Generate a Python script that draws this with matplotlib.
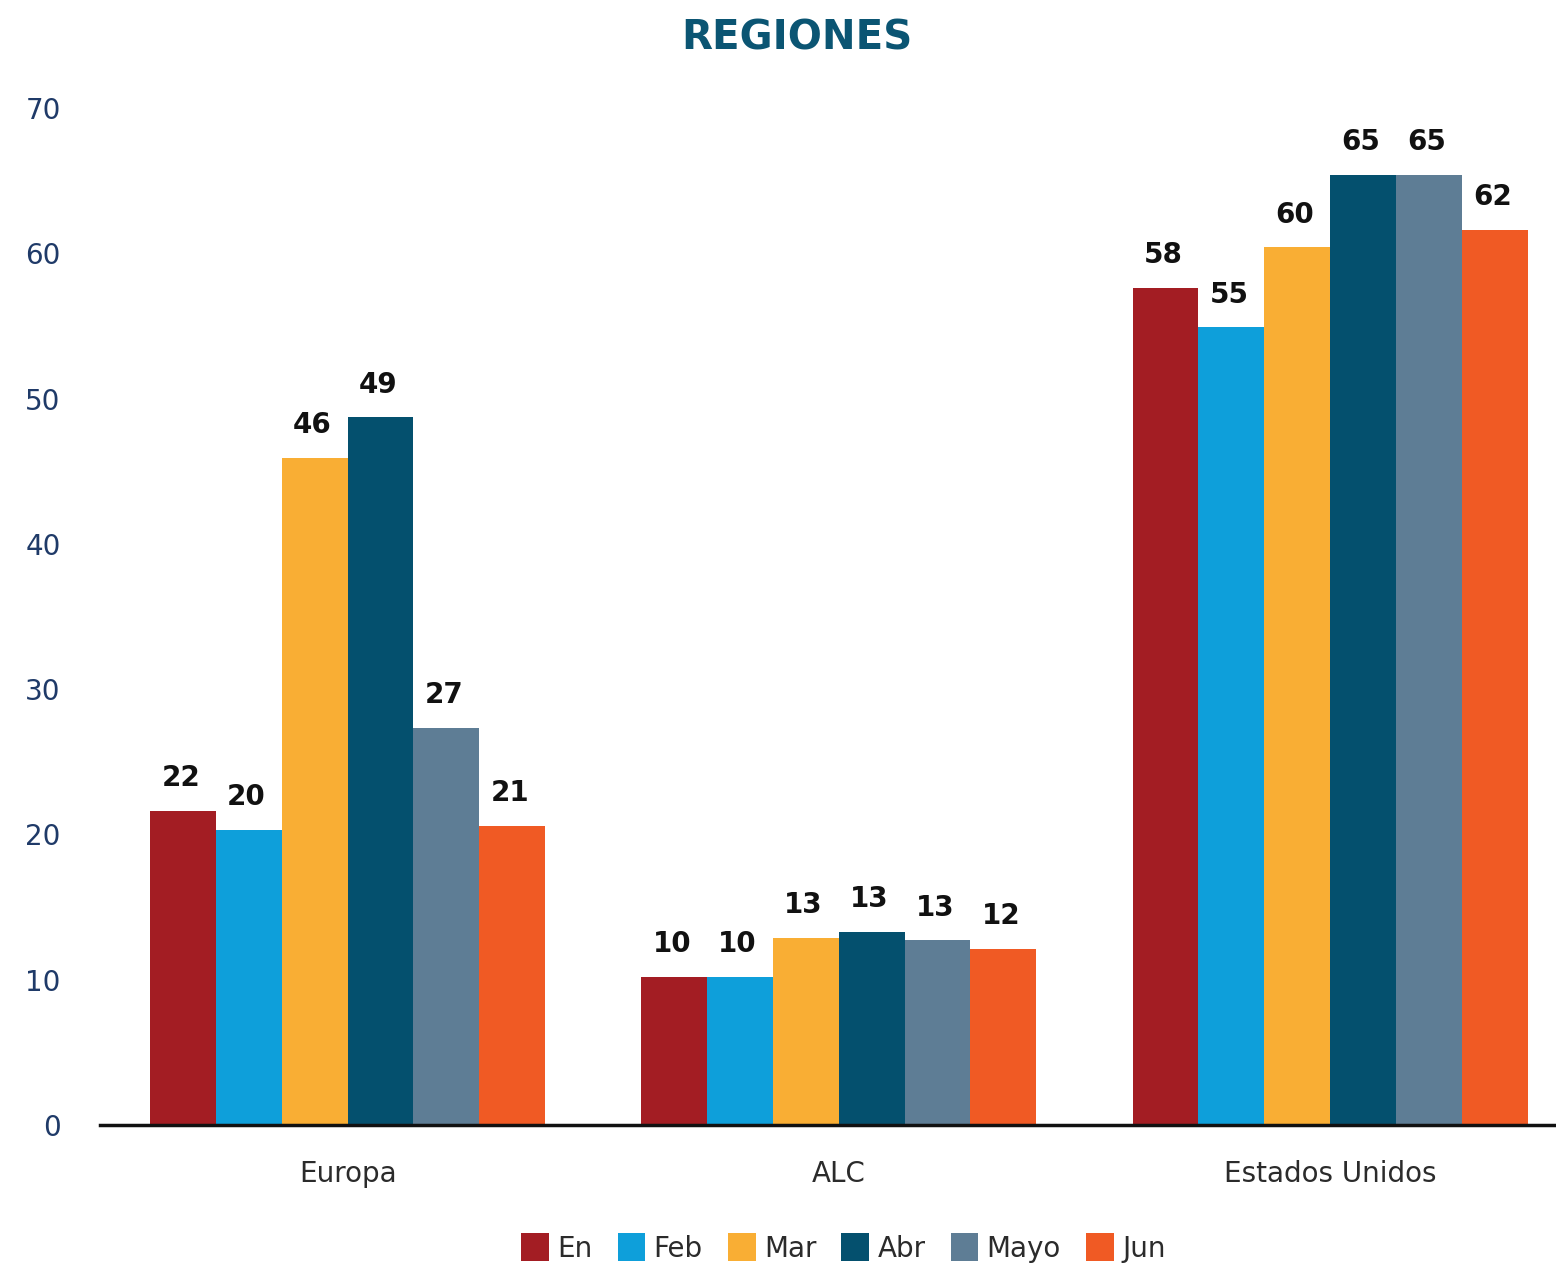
import numpy as np
import matplotlib.pyplot as plt
from matplotlib.patches import Patch

plt.rcParams['font.family'] = ['DejaVu Sans']

regions = ['Europa', 'ALC', 'Estados Unidos']
months = ['En', 'Feb', 'Mar', 'Abr', 'Mayo', 'Jun']
colors = ['#A31D23', '#0E9FDA', '#F9AE34', '#04506E', '#5E7D95', '#F05A24']

en = [21.6, 10.2, 57.6]
feb = [20.3, 10.2, 54.9]
mar = [45.9, 12.9, 60.4]
abr = [48.7, 13.3, 65.4]
mayo = [27.3, 12.7, 65.4]
jun = [20.6, 12.1, 61.6]
series = [en, feb, mar, abr, mayo, jun]

fig = plt.figure(figsize=(15.56, 12.68), dpi=100)
ax = fig.add_axes([0.064, 0.1128, 0.936, 0.802])

x = np.arange(len(regions))
w = 0.134
for i, vals in enumerate(series):
    pos = x + (i - 2.5) * w
    ax.bar(pos, vals, width=w, color=colors[i], zorder=2)
    for p, v in zip(pos, vals):
        ax.text(p - 0.005, v + 1.3, str(int(round(v))), ha='center', va='bottom',
                fontsize=20, fontweight='bold', color='#111111')

ax.set_xlim(-0.505, 2.46)
ax.set_ylim(0, 70)
ax.set_yticks(range(0, 71, 10))
ax.set_xticks(x)
ax.set_xticklabels(regions, fontsize=20, color='#2b2b2b')
ax.tick_params(axis='y', length=0, labelsize=20, labelcolor='#1F3A68', pad=28)
ax.tick_params(axis='x', length=0, pad=25)
for s in ['top', 'right', 'left']:
    ax.spines[s].set_visible(False)
ax.spines['bottom'].set_linewidth(2.5)
ax.spines['bottom'].set_color('#111111')

fig.text(0.512, 0.970, 'REGIONES', ha='center', va='center', fontsize=29,
         fontweight='bold', color='#0B5573')

handles = [Patch(facecolor=c) for c in colors]
fig.legend(handles, months, loc='center', bbox_to_anchor=(0.542, 0.016), ncol=6,
           frameon=False, fontsize=20, handlelength=1.0, handleheight=1.2,
           handletextpad=0.3, columnspacing=0.9, labelcolor='#2b2b2b')

fig.savefig('out.png', dpi=100)
